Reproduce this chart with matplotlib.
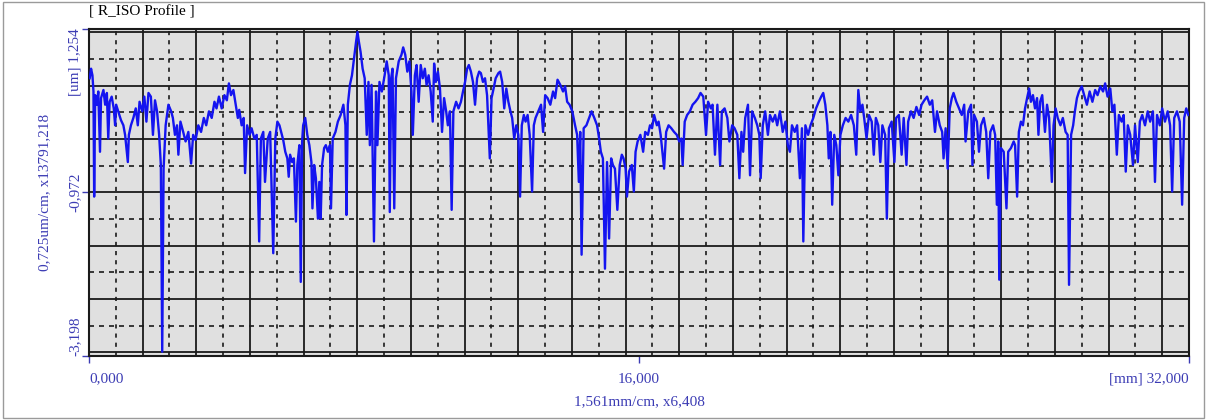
import numpy as np
import matplotlib.pyplot as plt
from matplotlib.patches import Rectangle

plt.rcParams['font.family'] = ['Liberation Serif', 'DejaVu Serif']

# 轮廓数据: 位置 mm, 高度 um
x_mm = [
    0.02, 0.06, 0.10, 0.13, 0.15, 0.18, 0.23, 0.27, 0.32, 0.35, 0.42, 0.47, 0.52, 0.56, 0.60, 0.66,
    0.72, 0.76, 0.79, 0.85, 0.93, 1.00, 1.05, 1.13, 1.16, 1.22, 1.29, 1.36, 1.42, 1.47, 1.55, 1.61,
    1.67, 1.73, 1.80, 1.86, 1.92, 1.98, 2.04, 2.09, 2.13, 2.17, 2.23, 2.31, 2.39, 2.44, 2.50, 2.56,
    2.60, 2.66, 2.74, 2.81, 2.89, 2.97, 3.03, 3.10, 3.18, 3.26, 3.34, 3.41, 3.49, 3.57, 3.65, 3.71,
    3.78, 3.86, 3.94, 4.01, 4.07, 4.13, 4.20, 4.27, 4.33, 4.37, 4.44, 4.50, 4.54, 4.60, 4.67, 4.73,
    4.81, 4.88, 4.95, 5.00, 5.07, 5.12, 5.20, 5.27, 5.36,
    5.42, 5.48, 5.54, 5.59, 5.65, 5.71, 5.77, 5.81, 5.85, 5.91, 5.96, 6.02, 6.06, 6.12, 6.16, 6.20,
    6.23, 6.29, 6.35, 6.41, 6.47, 6.50, 6.55, 6.60, 6.66, 6.70, 6.74, 6.78, 6.84, 6.89, 6.95, 7.01,
    7.04, 7.09, 7.17, 7.24, 7.32, 7.40, 7.46, 7.49, 7.53, 7.59, 7.65, 7.71, 7.77, 7.81, 7.85, 7.90,
    7.96, 8.02, 8.08, 8.13, 8.17, 8.22, 8.29, 8.35, 8.39, 8.45, 8.52, 8.60, 8.66, 8.72, 8.75, 8.79,
    8.83, 8.88, 8.93, 9.01, 9.09, 9.14, 9.20, 9.26, 9.32, 9.38, 9.42, 9.48, 9.53, 9.59, 9.65, 9.71,
    9.77, 9.82, 9.88, 9.94, 10.00, 10.04, 10.09, 10.15, 10.21, 10.27, 10.33, 10.39, 10.44, 10.50,
    10.55, 10.60, 10.68, 10.75,
    10.82, 10.88, 10.94, 11.00, 11.05, 11.11, 11.17, 11.23, 11.29, 11.35, 11.40, 11.46, 11.52, 11.58,
    11.66, 11.71, 11.77, 11.83, 11.91, 11.96, 12.02, 12.08, 12.14, 12.20, 12.26, 12.31, 12.37, 12.43,
    12.49, 12.54, 12.59, 12.65, 12.70, 12.76, 12.82, 12.89, 12.94, 12.99, 13.07, 13.15, 13.21, 13.27,
    13.34, 13.42, 13.50, 13.56, 13.63, 13.71, 13.79, 13.85, 13.91, 13.98, 14.06, 14.14, 14.20, 14.25,
    14.29, 14.33, 14.39, 14.47, 14.55, 14.62, 14.70, 14.78, 14.84, 14.89, 14.95, 15.01, 15.07, 15.13,
    15.19, 15.24, 15.30, 15.37, 15.44, 15.50, 15.55, 15.61, 15.65, 15.71, 15.79, 15.85, 15.90, 15.96,
    16.04,
    16.12, 16.18, 16.26, 16.32, 16.38, 16.44, 16.52, 16.57, 16.63, 16.73, 16.79, 16.86, 16.94, 17.02,
    17.10, 17.17, 17.23, 17.27, 17.33, 17.40, 17.48, 17.56, 17.64, 17.72, 17.79, 17.87, 17.95, 18.01,
    18.09, 18.14, 18.21, 18.28, 18.36, 18.41, 18.49, 18.57, 18.63, 18.71, 18.78, 18.86, 18.92, 18.98,
    19.03, 19.09, 19.17, 19.23, 19.29, 19.37, 19.44, 19.50, 19.54, 19.60, 19.67, 19.75, 19.81, 19.89,
    19.96, 20.02, 20.10, 20.18, 20.26, 20.33, 20.39, 20.45, 20.53, 20.60, 20.68, 20.74, 20.78, 20.84,
    20.92, 20.99, 21.07, 21.15, 21.23, 21.30, 21.36, 21.42, 21.48, 21.52,
    21.57, 21.62, 21.68, 21.74, 21.80, 21.86, 21.93, 22.01, 22.09, 22.17, 22.25, 22.32, 22.38, 22.44,
    22.50, 22.55, 22.62, 22.69, 22.77, 22.83, 22.89, 22.96, 23.02, 23.08, 23.16, 23.21, 23.27, 23.35,
    23.43, 23.48, 23.56, 23.64, 23.70, 23.78, 23.83, 23.91, 23.99, 24.07, 24.15, 24.22, 24.30, 24.38,
    24.46, 24.53, 24.61, 24.67, 24.75, 24.82, 24.86, 24.92, 24.98, 25.04, 25.10, 25.15, 25.23, 25.31,
    25.39, 25.46, 25.50, 25.58, 25.66, 25.70, 25.75, 25.83, 25.89, 25.95, 26.03, 26.10, 26.16, 26.22,
    26.30, 26.36, 26.41, 26.45, 26.48, 26.53, 26.61, 26.69, 26.74, 26.82, 26.90,
    26.94, 27.00, 27.05, 27.11, 27.17, 27.23, 27.29, 27.35, 27.40, 27.46, 27.52, 27.58, 27.62, 27.67,
    27.73, 27.81, 27.87, 27.93, 28.01, 28.06, 28.12, 28.18, 28.26, 28.33, 28.41, 28.47, 28.51, 28.57,
    28.63, 28.68, 28.74, 28.80, 28.88, 28.95, 29.03, 29.11, 29.19, 29.27, 29.34, 29.42, 29.50, 29.56,
    29.63, 29.71, 29.77, 29.83, 29.90, 29.96, 30.04, 30.10, 30.16, 30.22, 30.29, 30.37, 30.43, 30.51,
    30.57, 30.64, 30.72, 30.80, 30.87, 30.95, 31.01, 31.07, 31.15, 31.22, 31.30, 31.38, 31.45, 31.51,
    31.57, 31.65, 31.73, 31.80, 31.86, 31.92, 31.98,
]
z_um = [
    0.58, 0.71, 0.62, 0.40, -1.03, 0.35, 0.22, 0.40, -0.42, 0.31, 0.42, 0.22, 0.38, -0.24, 0.26, 0.33,
    0.17, -0.06, 0.22, 0.13, 0.01, -0.06, -0.19, -0.56, -0.19, -0.06, 0.04, 0.17, -0.06, 0.26, 0.13, 0.33,
    -0.01, 0.38, 0.33, -0.19, 0.28, 0.13, -0.19, -0.60, -3.14, -0.65, -0.06, 0.22, 0.13, 0.04, -0.19, -0.06,
    -0.46, -0.01, -0.15, -0.28, -0.15, -0.58, -0.19, -0.26, -0.06, -0.15, 0.04, -0.06, 0.13, 0.04, 0.26, 0.17,
    0.33, 0.17, 0.35, 0.28, 0.51, 0.35, 0.42, 0.22, 0.04, 0.15, -0.06, 0.04, -0.71, -0.06, -0.19, -0.10,
    -0.24, -0.19, -1.64, -0.24, -0.15, -0.83, -0.24, -0.15, -1.80,
    -0.24, -0.01, -0.06, -0.15, -0.26, -0.42, -0.51, -0.76, -0.46, -0.56, -0.51, -1.37, -0.60, -0.33, -2.19, -0.28,
    -0.06, 0.04, -0.19, -0.33, -0.56, -1.19, -0.60, -0.78, -1.33, -0.83, -1.33, -0.60, -0.37, -0.33, -0.42, -0.33,
    -1.19, -0.24, -0.15, -0.01, 0.08, 0.22, -0.06, -1.28, 0.22, 0.49, 0.62, 0.85, 1.08, 1.21, 1.08, 0.94,
    0.71, 0.58, -0.19, 0.53, -0.33, 0.49, -1.64, 0.40, -0.33, 0.53, 0.40, 0.62, 0.81, 0.62, -1.24, 0.58,
    0.71, -1.19, 0.58, 0.81, 0.90, 1.00, 0.90, 0.67, 0.81, 0.40, -0.19, 0.62, 0.76, 0.26, 0.76, 0.58,
    0.71, 0.49, 0.62, 0.40, -0.01, 0.78, 0.53, 0.67, 0.44, -0.15, 0.31, 0.13, -0.06, 0.13,
    -1.21, 0.13, 0.26, 0.17,
    0.26, 0.40, 0.53, 0.71, 0.76, 0.67, 0.53, 0.22, 0.58, 0.67, 0.65, 0.53, 0.58, 0.35,
    -0.51, 0.31, 0.44, 0.58, 0.65, 0.67, 0.53, 0.17, 0.44, 0.26, 0.13, 0.04, -0.24, -0.06,
    -0.19, -1.03, -0.06, 0.08, -0.01, 0.08, -0.19, -0.96, -0.06, 0.04, 0.13, 0.22, -0.15, 0.35,
    0.31, 0.22, 0.40, 0.31, 0.56, 0.49, 0.40, 0.47, 0.26, 0.22, 0.13, -0.06, -0.19, -0.83,
    -0.15, -1.82, -0.10, -0.06, 0.04, 0.13, 0.04, -0.06, -0.24, -0.42, -0.51, -2.01, -0.56, -1.60,
    -0.51, -0.60, -0.65, -1.21, -0.60, -0.46, -0.51, -0.65, -1.03, -0.69, -0.60, -0.96, -0.42, -0.28,
    -0.19,
    -0.42, -0.15, -0.19, -0.06, -0.10, 0.08, -0.06, -0.01, -0.19, -0.65, -0.15, -0.06, -0.10, -0.15,
    -0.19, -0.28, -0.24, -0.60, -0.01, 0.08, 0.13, 0.22, 0.26, 0.31, 0.38, 0.33, -0.19, 0.26,
    0.17, 0.22, -0.46, 0.22, -0.60, 0.13, 0.17, 0.04, -0.28, -0.06, -0.10, -0.19, -0.78, -0.15,
    -0.42, 0.04, 0.22, -0.74, 0.13, 0.04, -0.06, -0.19, -0.78, -0.06, 0.13, -0.19, 0.08, -0.01,
    0.08, -0.06, 0.13, -0.15, -0.01, -0.33, -0.42, -0.06, -0.15, -0.06, -0.78, -0.10, -1.64, -0.06,
    -0.19, -0.06, 0.04, 0.17, 0.26, 0.33, 0.38, 0.22, -0.06, -0.51,
    -0.15, -1.14, -0.19, -0.33, -0.74, -0.19, -0.06, 0.04, -0.01, 0.08, -0.06, -0.46, 0.42, 0.13,
    0.22, 0.04, -0.24, 0.08, -0.01, -0.46, 0.04, -0.06, -0.56, -0.06, -0.19, -1.33, -0.10, -0.01,
    -0.56, 0.04, 0.08, -0.46, 0.04, -0.60, -0.01, 0.13, 0.04, 0.19, 0.08, 0.22, 0.28, 0.33,
    0.22, 0.28, -0.15, 0.13, -0.06, -0.15, -0.51, -0.10, -0.65, 0.17, 0.31, 0.38, 0.26, 0.17,
    0.08, 0.22, -0.28, 0.13, 0.22, -0.60, 0.08, -0.01, -0.42, -0.06, 0.04, -0.15, -0.78, -0.15,
    -0.06, -0.19, -1.14, -0.28, -2.16, -0.37, -0.42, -1.19, -0.42, -0.37, -0.28,
    -0.33, -1.03, -0.15, -0.01, -0.06, 0.17, 0.31, 0.44, 0.26, 0.35, 0.17, 0.31, -0.19, 0.26,
    0.35, -0.15, 0.22, 0.04, -0.83, -0.06, 0.17, 0.04, -0.06, 0.04, -0.15, -0.19, -2.23, -0.19,
    -0.06, 0.13, 0.31, 0.40, 0.47, 0.35, 0.22, 0.40, 0.26, 0.42, 0.35, 0.47, 0.40, 0.51,
    0.33, 0.44, 0.13, 0.22, -0.46, 0.08, -0.01, 0.08, -0.69, -0.06, -0.19, -0.60, -0.06, -0.56,
    -0.01, 0.08, -0.06, 0.13, -0.01, 0.13, -0.83, 0.08, -0.06, 0.17, -0.01, 0.13, -0.06, -0.96,
    0.04, 0.13, -0.01, -1.14, 0.04, 0.17, 0.08,
]

x_range = (0.0, 32.0)
z_range = (-3.198, 1.254)
x_step = 1.561   # mm/cm
z_step = 0.725   # um/cm

label_blue = '#3c3cb4'
line_blue = '#1414f0'

fig = plt.figure(figsize=(12.07, 4.2), dpi=100)
ax = fig.add_axes([89 / 1207, 64 / 420, 1100 / 1207, 327.3 / 420])
ax.set_facecolor('#e0e0e0')
ax.set_xlim(*x_range)
ax.set_ylim(*z_range)

# 网格：实线主网格 + 虚线半格
z_mid = (z_range[0] + z_range[1]) / 2
for k in range(0, 21):
    ax.axvline(k * x_step, color='#1a1a1a', lw=1.3, zorder=1)
    ax.axvline((k + 0.5) * x_step, color='#1a1a1a', lw=1.2, ls=(0, (2.5, 3)), zorder=1)
for k in range(-3, 4):
    ax.axhline(z_mid + k * z_step, color='#1a1a1a', lw=1.3, zorder=1)
for k in range(-3, 3):
    ax.axhline(z_mid + (k + 0.5) * z_step, color='#1a1a1a', lw=1.2, ls=(0, (3, 3)), zorder=1)

ax.plot(x_mm, z_um, color=line_blue, lw=1.7, zorder=3)

for s in ax.spines.values():
    s.set_linewidth(1.5)
    s.set_color('#1a1a1a')

ax.set_xticks([0, 16, 32])
ax.set_xticklabels([])
ax.set_yticks([z_range[1], z_mid, z_range[0]])
ax.set_yticklabels([])
ax.tick_params(direction='out', length=5, width=1, color=label_blue)

fs = 11
# x 轴标签
ax.text(0.0, -0.07, '0,000', transform=ax.transAxes, ha='left', va='center',
        fontsize=fs, color=label_blue)
ax.text(0.5, -0.07, '16,000', transform=ax.transAxes, ha='center', va='center',
        fontsize=fs, color=label_blue)
ax.text(1.0, -0.07, '[mm] 32,000', transform=ax.transAxes, ha='right', va='center',
        fontsize=fs, color=label_blue)
ax.text(0.5, -0.14, '1,561mm/cm, x6,408', transform=ax.transAxes, ha='center', va='center',
        fontsize=fs, color=label_blue)

# y 轴标签（竖排）
ax.text(-0.0125, 1.0, '[um] 1,254', transform=ax.transAxes, rotation=90, ha='center', va='top',
        fontsize=fs, color=label_blue)
ax.text(-0.0125, 0.5, '-0,972', transform=ax.transAxes, rotation=90, ha='center', va='center',
        fontsize=fs, color=label_blue)
ax.text(-0.0125, 0.0, '-3,198', transform=ax.transAxes, rotation=90, ha='center', va='bottom',
        fontsize=fs, color=label_blue)
ax.text(-0.040, 0.5, '0,725um/cm, x13791,218', transform=ax.transAxes, rotation=90,
        ha='center', va='center', fontsize=fs, color=label_blue)

# 标题
fig.text(89 / 1207, 1 - 12 / 420, '[ R_ISO Profile ]', ha='left', va='center',
         fontsize=fs, color='black')

# 外框
fig.patches.append(Rectangle((3 / 1207, 2 / 420), 1201 / 1207, 416 / 420,
                             transform=fig.transFigure, fill=False,
                             edgecolor='#9a9a9a', lw=1))

plt.savefig('out.png', dpi=100)
